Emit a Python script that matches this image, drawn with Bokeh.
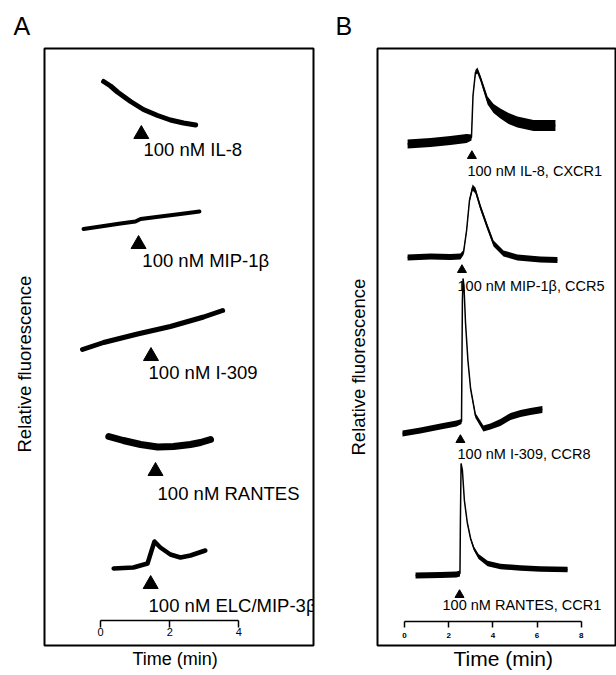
from bokeh.plotting import figure
from bokeh.layouts import row
from bokeh.models import LinearAxis, FixedTicker, Range1d, Title
from bokeh.embed import file_html
from bokeh.resources import INLINE
from bokeh.core.properties import value

FONT = "Liberation Sans"

# ---------------- data: panel A (time in min, relative fluorescence a.u.) ----------------
a_labels = ["100 nM IL-8", "100 nM MIP-1β", "100 nM I-309", "100 nM RANTES", "100 nM ELC/MIP-3β"]
a_inject = [1.18, 1.10, 1.46, 1.59, 1.45]

a_il8_t = [0.09, 0.29, 0.49, 0.87, 1.24, 1.65, 2.02, 2.40, 2.75]
a_il8_f = [56.4, 55.95, 55.35, 54.4, 53.6, 53.0, 52.55, 52.25, 52.05]
a_mip_t = [-0.49, 0.0, 0.58, 1.01, 1.16, 1.73, 2.31, 2.86]
a_mip_f = [41.65, 41.9, 42.2, 42.4, 42.65, 42.9, 43.15, 43.4]
a_i309_t = [-0.52, 0.09, 1.07, 2.02, 2.98, 3.53]
a_i309_f = [29.6, 30.3, 31.15, 31.9, 32.85, 33.5]
a_rantes_t = [0.24, 0.66, 1.16, 1.65, 2.11, 2.60, 2.89, 3.18]
a_rantes_f = [20.9, 20.5, 20.1, 19.85, 19.9, 20.1, 20.3, 20.6]
a_elc_t = [0.38, 0.95, 1.36, 1.45, 1.56, 1.73, 2.02, 2.31, 2.60, 3.03]
a_elc_f = [7.7, 7.8, 8.2, 9.2, 10.4, 9.8, 9.1, 8.8, 9.0, 9.5]
a_ticks = [0, 2, 4]

# ---------------- data: panel B ----------------
b_labels = ["100 nM IL-8, CXCR1", "100 nM MIP-1β, CCR5", "100 nM I-309, CCR8", "100 nM RANTES, CCR1"]
b_inject = [3.05, 2.60, 2.53, 2.49]

b_il8_t = [0.14, 1.18, 2.08, 2.81, 3.03, 3.10, 3.21, 3.30, 3.44, 3.76, 4.03, 4.34, 4.71, 5.11, 5.84, 6.38, 6.83]
b_il8_f = [50.15, 50.3, 50.5, 50.7, 50.8, 55.0, 57.3, 57.5, 56.7, 54.5, 53.7, 53.2, 52.7, 52.35, 52.0, 52.0, 52.0]
b_il8_noise = [0.45, 0.45, 0.45, 0.45, 0.3, 0.15, 0.25, 0.3, 0.3, 0.4, 0.45, 0.5, 0.55, 0.55, 0.55, 0.55, 0.55]

b_mip_t = [0.14, 1.18, 2.08, 2.53, 2.67, 2.81, 2.94, 3.08, 3.21, 3.44, 3.76, 4.03, 4.48, 5.11, 6.15, 6.92]
b_mip_f = [38.8, 38.9, 38.85, 38.9, 39.3, 41.5, 44.5, 45.8, 45.5, 43.8, 41.8, 40.2, 39.2, 38.8, 38.6, 38.55]
b_mip_noise = [0.3, 0.3, 0.3, 0.3, 0.25, 0.2, 0.2, 0.3, 0.3, 0.3, 0.3, 0.3, 0.3, 0.3, 0.3, 0.3]

b_i309_t = [-0.09, 0.72, 1.63, 2.35, 2.58, 2.62, 2.65, 2.69, 2.76, 2.87, 2.99, 3.21, 3.57, 3.89, 4.34, 4.80, 5.25, 5.70, 6.24]
b_i309_f = [21.2, 21.5, 21.9, 22.2, 22.4, 34.5, 36.7, 36.0, 32.3, 28.5, 25.7, 23.0, 21.7, 21.9, 22.3, 22.9, 23.2, 23.4, 23.6]
b_i309_noise = [0.3, 0.3, 0.3, 0.3, 0.25, 0.1, 0.1, 0.1, 0.1, 0.1, 0.15, 0.25, 0.3, 0.3, 0.35, 0.35, 0.35, 0.35, 0.35]

b_rantes_t = [0.5, 1.63, 2.35, 2.51, 2.53, 2.56, 2.62, 2.71, 2.84, 2.99, 3.14, 3.35, 3.76, 4.34, 5.25, 6.15, 7.38]
b_rantes_f = [7.0, 7.05, 7.1, 7.2, 12.5, 18.2, 17.5, 14.5, 12.3, 10.7, 9.7, 8.9, 8.2, 7.9, 7.75, 7.65, 7.6]
b_rantes_noise = [0.3, 0.3, 0.3, 0.3, 0.1, 0.1, 0.1, 0.1, 0.12, 0.15, 0.2, 0.25, 0.28, 0.28, 0.28, 0.28, 0.28]
b_ticks = [0, 2, 4, 6, 8]

# ---------------- layout (annotation placement, not data) ----------------
A_ARROW_Y = [51.13, 40.13, 28.93, 17.43, 6.13]
A_LABEL_X = [1.24, 1.21, 1.39, 1.65, 1.39]
A_LABEL_Y = [49.6, 38.5, 27.3, 15.2, 4.0]
A_WIDTHS = [5, 4, 5, 7, 4.5]
B_ARROW_Y = [48.96, 37.56, 20.56, 5.06]
B_LABEL_X = [2.85, 2.40, 2.40, 1.72]
B_LABEL_Y = [47.5, 36.0, 19.2, 4.1]

H = 675
Y_RANGE = (0.0, 59.7)


def base_fig(width, xr, left_border, right_border):
    p = figure(width=width, height=H, x_range=Range1d(*xr), y_range=Range1d(*Y_RANGE),
               x_axis_location=None, y_axis_location=None,
               output_backend="svg", toolbar_location=None,
               min_border_left=left_border, min_border_right=right_border,
               min_border_top=48, min_border_bottom=30)
    p.xgrid.grid_line_color = None
    p.ygrid.grid_line_color = None
    p.outline_line_color = "black"
    p.outline_line_width = 2
    p.background_fill_color = "white"
    p.border_fill_color = "white"
    return p


def side_title(p, side, txt, size, offset, valign, standoff):
    t = Title(text=txt, text_font=FONT, text_font_size=size, text_font_style="normal",
              text_color="black", align="left", offset=offset, vertical_align=valign,
              standoff=standoff)
    p.add_layout(t, side)


def scale_bar(p, ticks, loc, tick_len, font_size, style, standoff):
    ax = LinearAxis(ticker=FixedTicker(ticks=ticks), bounds=(ticks[0], ticks[-1]))
    ax.fixed_location = loc
    ax.axis_line_width = 1.5
    ax.major_tick_line_width = 1.5
    ax.major_tick_in = 0
    ax.major_tick_out = tick_len
    ax.minor_tick_line_color = None
    ax.major_label_text_font = FONT
    ax.major_label_text_font_size = font_size
    ax.major_label_text_font_style = style
    ax.major_label_text_color = "black"
    ax.major_label_standoff = standoff
    p.add_layout(ax, "below")


# ---------------- Panel A ----------------
pA = base_fig(320, (-1.618, 6.156), 44, 7)
side_title(pA, "above", "A", "25px", -31, "bottom", 17)
side_title(pA, "left", "Relative fluorescence", "18.5px", 193, "bottom", 20)
scale_bar(pA, a_ticks, 2.5, 7, "11px", "normal", 0)
side_title(pA, "below", "Time (min)", "18px", 88, "top", 7)

a_traces = [(a_il8_t, a_il8_f), (a_mip_t, a_mip_f), (a_i309_t, a_i309_f),
            (a_rantes_t, a_rantes_f), (a_elc_t, a_elc_f)]
for (t, f), w in zip(a_traces, A_WIDTHS):
    pA.line(t, f, line_color="black", line_width=w, line_join="round", line_cap="round")
pA.scatter(a_inject, A_ARROW_Y, marker="triangle", size=15, color="black")
pA.text(A_LABEL_X, A_LABEL_Y, text=a_labels, text_font=value(FONT), text_font_size="18.5px",
        text_baseline="middle", text_align="left", text_color="black")

# ---------------- Panel B ----------------
pB = base_fig(296, (-1.222, 9.548), 57, 1)
side_title(pB, "above", "B", "25px", -42, "bottom", 17)
side_title(pB, "left", "Relative fluorescence", "18.5px", 190, "bottom", 18)
scale_bar(pB, b_ticks, 2.4, 6, "8px", "bold", 5)
side_title(pB, "below", "Time (min)", "21px", 76, "top", 3)

b_traces = [(b_il8_t, b_il8_f, b_il8_noise), (b_mip_t, b_mip_f, b_mip_noise),
            (b_i309_t, b_i309_f, b_i309_noise), (b_rantes_t, b_rantes_f, b_rantes_noise)]
for t, f, n in b_traces:
    lo = [a - b for a, b in zip(f, n)]
    hi = [a + b for a, b in zip(f, n)]
    pB.varea(x=t, y1=lo, y2=hi, fill_color="black")
    pB.line(t, f, line_color="black", line_width=1.5)
pB.scatter(b_inject, B_ARROW_Y, marker="triangle", size=9, color="black")
pB.text(B_LABEL_X, B_LABEL_Y, text=b_labels, text_font=value(FONT), text_font_size="14.5px",
        text_baseline="middle", text_align="left", text_color="black")

layout = row(pA, pB)
open("out.html", "w").write(file_html(layout, INLINE))
